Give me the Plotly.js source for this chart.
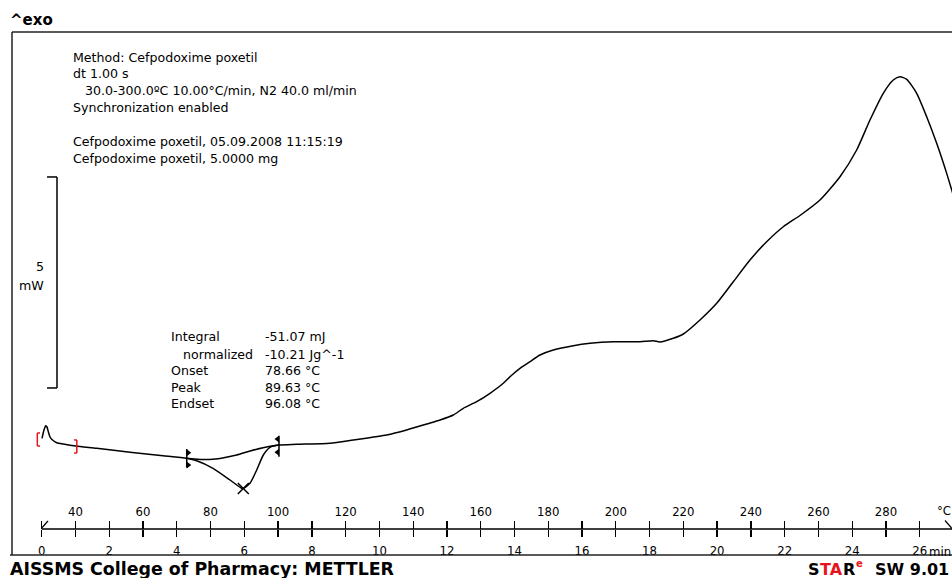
<!DOCTYPE html>
<html><head><meta charset="utf-8">
<script src="https://cdn.plot.ly/plotly-3.0.1.min.js"></script>
<style>html,body{margin:0;padding:0;background:#fff;overflow:hidden}#chart{width:952px;height:578px}</style>
</head><body><div id="chart"></div>
<script>
// DSC curve: temperature (°C) vs heat flow (mW, arbitrary offset), exo up
const temperature = [30.09,30.68,31.18,31.57,31.95,32.46,32.96,34.44,36.40,40.07,46.29,56.15,65.92,72.94,75.90,80.73,85.76,89.22,89.70,91.68,93.67,95.62,97.61,100.27,105.51,115.37,122.27,132.16,138.08,144.01,147.95,151.88,154.85,158.81,162.75,166.69,168.67,171.63,174.60,177.56,181.50,187.42,192.36,199.26,207.17,211.11,213.07,217.03,219.99,224.93,229.88,234.80,239.74,244.68,249.60,254.54,260.46,266.39,271.33,275.27,279.21,282.17,284.16,286.14,289.10,292.06,295.02,297.98,300.0];
const heatFlow = [0.277,0.474,0.576,0.545,0.434,0.308,0.254,0.173,0.142,0.095,0.040,-0.054,-0.135,-0.197,-0.254,-0.434,-0.711,-0.908,-0.912,-0.789,-0.474,-0.118,0.064,0.118,0.135,0.159,0.237,0.355,0.474,0.616,0.711,0.829,0.988,1.145,1.344,1.581,1.737,1.936,2.092,2.251,2.370,2.472,2.528,2.566,2.566,2.590,2.559,2.647,2.749,3.081,3.476,3.988,4.502,4.936,5.291,5.557,5.924,6.476,7.109,7.820,8.453,8.768,8.846,8.784,8.453,7.898,7.268,6.555,6.019];
// integration baseline between the limits
const baselineTemp = [72.94,76.88,80.73,84.28,87.74,91.68,95.53,100.27];
const baselineHeat = [-0.197,-0.225,-0.220,-0.178,-0.118,-0.024,0.055,0.118];
const limitTemps = [72.94, 100.27];
const limitHeats = [-0.197, 0.118];
const peakTemp = [89.70];
const peakHeat = [-0.912];
const rangeMarkTemps = [28.7, 40.4];
const rangeMarkHeats = [0.249, 0.083];
const scaleBarMW = 5;
const scaleBarBase = 1.47;

const tempTicks = [30,40,50,60,70,80,90,100,110,120,130,140,150,160,170,180,190,200,210,220,230,240,250,260,270,280,290];
const tempTickLabels = ['','40','','60','','80','','100','','120','','140','','160','','180','','200','','220','','240','','260','','280',''];
const timeTicks = [0,1,2,3,4,5,6,7,8,9,10,11,12,13,14,15,16,17,18,19,20,21,22,23,24,25,26];
const timeTickLabels = ['0','','2','','4','','6','','8','','10','','12','','14','','16','','18','','20','','22','','24','','26'];

const methodLines = ['Method: Cefpodoxime poxetil','dt 1.00 s',' 30.0-300.0ºC 10.00°C/min, N2 40.0 ml/min','Synchronization enabled','','Cefpodoxime poxetil, 05.09.2008 11:15:19','Cefpodoxime poxetil, 5.0000 mg'];
const resultLabels = ['Integral',' normalized','Onset','Peak','Endset'];
const resultValues = ['-51.07 mJ','-10.21 Jg^-1','78.66 °C','89.63 °C','96.08 °C'];

const FONT = '"DejaVu Sans", Verdana, sans-serif';
const AXFONT = '"DejaVu Sans Condensed", "DejaVu Sans", sans-serif';
const BOLD = '"DejaVu Sans", Verdana, sans-serif';
const px = x => (x - 12) / 940;
const py = y => (555 - y) / 523;
const xT = x => 30 + (x - 41.7) / 3.377;
const indent = t => t.replace(/^ +/, '&nbsp;&nbsp;&nbsp;');

const traces = [
  {x: temperature, y: heatFlow, mode: 'lines', line: {color: '#000', width: 1.5, shape: 'spline', smoothing: 0.6}, hoverinfo: 'skip'},
  {x: baselineTemp, y: baselineHeat, mode: 'lines', line: {color: '#000', width: 1.5, shape: 'spline', smoothing: 0.8}, hoverinfo: 'skip'},
  {x: peakTemp, y: peakHeat, mode: 'markers', marker: {symbol: 'x-thin-open', size: 11, color: '#000', line: {color: '#000', width: 1.5}}, hoverinfo: 'skip'},
  {x: [limitTemps[0] + 0.45, limitTemps[0] + 0.45], y: [limitHeats[0] + 0.13, limitHeats[0] - 0.16], mode: 'markers', marker: {symbol: 'triangle-right', size: 6, color: '#000'}, hoverinfo: 'skip'},
  {x: [limitTemps[1] - 0.45, limitTemps[1] - 0.45], y: [limitHeats[1] + 0.14, limitHeats[1] - 0.17], mode: 'markers', marker: {symbol: 'triangle-left', size: 6, color: '#000'}, hoverinfo: 'skip'},
  {x: [0], y: [0], xaxis: 'x2', mode: 'markers', marker: {opacity: 0}, hoverinfo: 'skip'}
];

const shapes = [
  // frame
  {type: 'line', xref: 'paper', yref: 'paper', x0: px(12), x1: px(960), y0: py(32), y1: py(32), line: {color: '#222', width: 1.5}},
  {type: 'line', xref: 'paper', yref: 'paper', x0: px(12), x1: px(12), y0: py(32), y1: py(555), line: {color: '#222', width: 1.5}},
  {type: 'rect', xref: 'paper', yref: 'paper', x0: px(14), x1: px(960), y0: py(555), y1: py(560), fillcolor: '#fff', line: {width: 0}, layer: 'above'},
  {type: 'line', xref: 'paper', yref: 'paper', x0: px(10), x1: px(960), y0: py(555), y1: py(555), line: {color: '#222', width: 1.5}, layer: 'above'},
  // axis line with end marks
  {type: 'line', xref: 'x', yref: 'paper', x0: 30, x1: 300, y0: py(529), y1: py(529), line: {color: '#000', width: 1.5}},
  {type: 'line', xref: 'x', yref: 'paper', x0: 30, x1: xT(48), y0: py(528), y1: py(521), line: {color: '#000', width: 1.2}},
  {type: 'line', xref: 'x', yref: 'paper', x0: xT(945), x1: xT(952), y0: py(520.5), y1: py(528.5), line: {color: '#000', width: 1.2}},
  // 5 mW scale bar
  {type: 'line', xref: 'x', yref: 'y', x0: xT(57), x1: xT(57), y0: scaleBarBase, y1: scaleBarBase + scaleBarMW, line: {color: '#000', width: 1.5}},
  {type: 'line', xref: 'x', yref: 'y', x0: xT(47), x1: xT(57), y0: scaleBarBase, y1: scaleBarBase, line: {color: '#000', width: 1.5}},
  {type: 'line', xref: 'x', yref: 'y', x0: xT(47), x1: xT(57), y0: scaleBarBase + scaleBarMW, y1: scaleBarBase + scaleBarMW, line: {color: '#000', width: 1.5}},
  // integration limit ticks
  {type: 'line', xref: 'x', yref: 'y', x0: limitTemps[0], x1: limitTemps[0], y0: limitHeats[0] - 0.22, y1: limitHeats[0] + 0.22, line: {color: '#000', width: 1.5}},
  {type: 'line', xref: 'x', yref: 'y', x0: limitTemps[1], x1: limitTemps[1], y0: limitHeats[1] - 0.28, y1: limitHeats[1] + 0.22, line: {color: '#000', width: 1.5}}
];

// red range brackets
const red = '#e8141c';
[[0, 1], [1, -1]].forEach(([i, dir]) => {
  const t = rangeMarkTemps[i], h = rangeMarkHeats[i];
  shapes.push({type: 'line', xref: 'x', yref: 'y', x0: t, x1: t, y0: h - 0.155, y1: h + 0.155, line: {color: red, width: 1.5}});
  shapes.push({type: 'line', xref: 'x', yref: 'y', x0: t, x1: t + dir * 0.8, y0: h - 0.155, y1: h - 0.155, line: {color: red, width: 1.5}});
  shapes.push({type: 'line', xref: 'x', yref: 'y', x0: t, x1: t + dir * 0.8, y0: h + 0.155, y1: h + 0.155, line: {color: red, width: 1.5}});
});

const annotations = [];
const addText = (text, x, y, opts = {}) => annotations.push(Object.assign({
  text, x: px(x), y: py(y), xref: 'paper', yref: 'paper', xanchor: 'left', yanchor: 'middle',
  showarrow: false, font: {family: FONT, size: 12.6, color: '#000'}, borderpad: 0
}, opts));

const methodY = [57.3, 74, 90.7, 107.3, 124, 141.7, 158.3];
methodLines.forEach((t, i) => { if (t) addText(indent(t), 72, methodY[i]); });
const resY = [336.7, 354, 370.7, 387.5, 403.8];
resultLabels.forEach((t, i) => addText(indent(t), 170, resY[i]));
resultValues.forEach((t, i) => addText(t, 264, resY[i]));
addText('5', 45, 266, {xanchor: 'right'});
addText('mW', 45, 285.5, {xanchor: 'right'});
addText('°C', 936, 510.5, {font: {family: AXFONT, size: 13, color: '#000'}});
addText('min', 928, 551, {font: {family: AXFONT, size: 13, color: '#000'}});
addText('<b>^exo</b>', 9, 20, {font: {family: BOLD, size: 15, color: '#000'}});
addText('<b>AISSMS College of Pharmacy: METTLER</b>', 9, 569, {font: {family: BOLD, size: 17.4, color: '#000'}});
// STARe SW 9.01 logo, built from separate pieces
const logoFont = c => ({family: BOLD, size: 16, color: c});
addText('<b>S</b>', 807, 569, {font: logoFont('#000')});
addText('<b>TA</b>', 818.5, 569, {font: logoFont(red)});
addText('<b>R</b>', 842, 569, {font: logoFont('#000')});
addText('<b>e</b>', 855, 563, {font: {family: BOLD, size: 10, color: red}});
addText('<b>SW 9.01</b>', 950, 569, {xanchor: 'right', font: logoFont('#000')});

const layout = {
  width: 952, height: 578,
  margin: {l: 12, r: 0, t: 32, b: 23, pad: 0},
  paper_bgcolor: '#fff', plot_bgcolor: '#fff',
  showlegend: false,
  xaxis: {
    range: [xT(12), xT(952)], anchor: 'free', position: py(529), side: 'top',
    tickmode: 'array', tickvals: tempTicks, ticktext: tempTickLabels,
    ticks: 'outside', ticklen: 8, tickwidth: 1.3, tickcolor: '#000',
    showline: false, showgrid: false, zeroline: false,
    tickfont: {family: AXFONT, size: 13, color: '#000'}, fixedrange: true
  },
  xaxis2: {
    overlaying: 'x', range: [(xT(12) - 30) / 10, (xT(952) - 30) / 10], anchor: 'free', position: py(529), side: 'bottom',
    tickmode: 'array', tickvals: timeTicks, ticktext: timeTickLabels,
    ticks: 'outside', ticklen: 7, tickwidth: 1.3, tickcolor: '#000', ticklabelstandoff: 2,
    showline: false, showgrid: false, zeroline: false,
    tickfont: {family: AXFONT, size: 13, color: '#000'}, fixedrange: true
  },
  yaxis: {range: [(450 - 555) / 42.2, (450 - 32) / 42.2], visible: false, fixedrange: true},
  shapes, annotations
};

Plotly.newPlot('chart', traces, layout, {staticPlot: true, displayModeBar: false});
</script>
</body></html>
